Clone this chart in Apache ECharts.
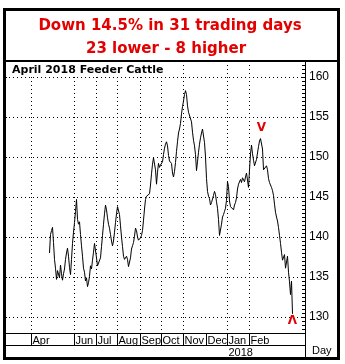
<!DOCTYPE html>
<html>
<head>
<meta charset="utf-8">
<script src="https://cdn.jsdelivr.net/npm/echarts@6/dist/echarts.min.js"></script>
<style>
  html, body { margin: 0; padding: 0; background: #fff; }
  #chart { width: 345px; height: 364px; }
</style>
</head>
<body>
<div id="chart"></div>
<script>
// Trading-day slots per month on the horizontal axis
const months     = ['Mar', 'Apr', 'May', 'Jun', 'Jul', 'Aug', 'Sep', 'Oct', 'Nov', 'Dec', 'Jan', 'Feb', 'Mar'];
const monthYears = [2017, 2017, 2017, 2017, 2017, 2017, 2017, 2017, 2017, 2017, 2018, 2018, 2018];
const monthSlots = [26, 21, 22, 22, 21, 23, 21, 22, 23, 21, 22, 20, 36];

// Months that get a label box, months that get a vertical grid line, months that start a year row
const labeledMonthIdx = [1, 3, 4, 5, 6, 7, 8, 9, 10, 11];
const gridMonthIdx    = [1, 3, 4, 5, 6, 7, 8, 10, 11];
const yearMonthIdx    = [10];

// Price scale
const yTickLabels = [130, 135, 140, 145, 150, 155, 160];
const yMin = 128, yMax = 162;

// Daily settlement prices, April 2018 Feeder Cattle
const firstPriceSlot = 44;
const prices = [
  138.0, 140.3, 140.8, 141.2, 139.3, 137.2, 136.1, 134.7, 135.8, 135.6,
  134.9, 136.5, 135.4, 134.6, 135.4, 136.0, 137.2, 138.0, 138.6, 137.6,
  136.2, 135.3, 137.2, 139.2, 140.6, 141.8, 143.2, 144.7, 142.2, 141.6,
  141.9, 140.3, 138.9, 137.6, 136.1, 135.6, 134.5, 134.9, 133.8, 134.3,
  135.1, 136.4, 136.0, 137.1, 138.1, 139.2, 139.0, 137.4, 136.4, 136.3,
  136.6, 137.4, 138.8, 140.2, 141.6, 142.9, 144.0, 143.4, 142.4, 141.6,
  141.1, 140.3, 139.5, 138.9, 139.5, 140.6, 141.8, 142.9, 143.8, 144.0,
  142.8, 141.4, 140.0, 138.8, 137.6, 137.2, 137.3, 137.6, 137.2, 136.3,
  136.3, 137.4, 138.5, 138.9, 139.3, 140.1, 141.1, 140.8, 140.0, 139.6,
  139.6, 139.9, 140.2, 140.8, 142.1, 143.5, 144.7, 145.1, 145.2, 145.0,
  145.4, 146.5, 147.9, 149.1, 149.9, 149.7, 148.4, 146.6, 148.1, 149.2,
  148.7, 149.0, 148.9, 149.4, 150.3, 151.1, 151.6, 151.9, 151.4, 150.2,
  149.5, 149.5, 149.2, 148.0, 147.5, 148.2, 149.3, 150.7, 151.9, 153.0,
  153.5, 154.2, 155.4, 156.3, 157.0, 157.8, 158.3, 157.8, 156.4, 155.6,
  155.8, 155.4, 154.4, 153.1, 152.1, 151.4, 150.3, 148.3, 149.4, 150.6,
  151.6, 152.4, 153.0, 153.5, 153.5, 151.8, 150.0, 147.3, 145.7, 145.1,
  144.8, 144.0, 144.3, 144.4, 145.2, 145.7, 145.3, 144.4, 143.6, 142.2,
  140.2, 140.1, 141.6, 142.5, 142.8, 143.2, 143.6, 144.6, 146.9, 146.3,
  144.5, 143.8, 143.9, 143.7, 143.4, 144.0, 144.3, 144.9, 146.0, 146.6,
  146.4, 147.2, 146.8, 147.4, 147.3, 146.9, 147.5, 148.0, 147.9, 146.2,
  148.4, 150.4, 151.5, 150.4, 149.6, 148.9, 149.0, 149.7, 150.5, 151.3,
  152.0, 152.3, 152.4, 151.0, 148.4, 148.3, 148.5, 148.9, 148.4, 147.3,
  146.8, 146.7, 146.2, 145.8, 145.2, 144.1, 143.1, 142.5, 142.0, 141.2,
  140.2, 139.2, 138.1, 137.1, 136.9, 137.8, 136.1, 136.0, 137.6, 135.6,
  134.4, 132.8, 134.5, 130.4
];

// ---- derived axis data ----
const days = [];
const monthStartSlot = [];
months.forEach((m, mi) => {
  monthStartSlot.push(days.length);
  for (let k = 0; k < monthSlots[mi]; k++) days.push(m + ' ' + monthYears[mi] + ' ' + (k + 1));
});
const labelSlots = new Set(labeledMonthIdx.map(i => monthStartSlot[i]));
const gridSlots  = new Set(gridMonthIdx.map(i => monthStartSlot[i]));
const yearSlots  = new Set(yearMonthIdx.map(i => monthStartSlot[i]));

const series = days.map((d, i) => {
  const p = i - firstPriceSlot;
  return (p >= 0 && p < prices.length) ? prices[p] : null;
});

// Rally top before the final slide, and the closing low
let lowIdx = 0;
prices.forEach((v, i) => { if (v < prices[lowIdx]) lowIdx = i; });
let peakIdx = lowIdx;
for (let i = lowIdx; i >= lowIdx - 40; i--) if (prices[i] > prices[peakIdx]) peakIdx = i;

const RED = '#e30000';
const SANS = '"Liberation Sans", Arial, sans-serif';
const BOLD = '"DejaVu Sans", sans-serif';

// layout
const W = 345, H = 364;
const plotLeft = 5, plotRight = 305, plotTop = 61, plotBottom = 333;
const pxPerUnit = (plotBottom - plotTop) / (yMax - yMin);
const labelTop = plotBottom - (yTickLabels[yTickLabels.length - 1] - yMin) * pxPerUnit;
const labelBottom = plotBottom - (yTickLabels[0] - yMin) * pxPerUnit;

const chart = echarts.init(document.getElementById('chart'), null, { renderer: 'canvas' });

chart.setOption({
  animation: false,
  backgroundColor: '#fff',
  grid: [
    { left: plotLeft, right: W - plotRight, top: plotTop, bottom: H - plotBottom },
    { left: plotLeft, right: W - plotRight, top: labelTop, bottom: H - labelBottom }
  ],
  xAxis: [
    {
      type: 'category', gridIndex: 0, data: days, boundaryGap: true,
      axisLine: { show: true, lineStyle: { color: '#000', width: 1 } },
      axisTick: { show: true, length: 12, interval: (i) => labelSlots.has(i), lineStyle: { color: '#000', width: 1 } },
      axisLabel: {
        show: true, interval: (i) => labelSlots.has(i), align: 'left', margin: 2,
        padding: [0, 0, 0, 1],
        formatter: (v) => v.split(' ')[0],
        color: '#000', fontFamily: SANS, fontSize: 11
      },
      splitLine: { show: true, interval: (i) => gridSlots.has(i), lineStyle: { color: '#000', width: 1, type: [1, 3] } }
    },
    {
      type: 'category', gridIndex: 0, data: days, boundaryGap: true, position: 'bottom', offset: 12,
      axisLine: { show: true, lineStyle: { color: '#000', width: 1 } },
      axisTick: { show: true, length: 12, interval: (i) => yearSlots.has(i), lineStyle: { color: '#000', width: 1 } },
      axisLabel: {
        show: true, interval: (i) => yearSlots.has(i), align: 'left', margin: 2,
        padding: [0, 0, 0, 1],
        formatter: (v) => v.split(' ')[1],
        color: '#000', fontFamily: SANS, fontSize: 11
      },
      splitLine: { show: false }
    },
    { type: 'value', gridIndex: 1, min: 0, max: 1, show: false }
  ],
  yAxis: [
    {
      type: 'value', gridIndex: 0, position: 'right', min: yMin, max: yMax, interval: 0.5,
      axisLine: { show: true, lineStyle: { color: '#000', width: 1 } },
      axisTick: { show: true, inside: true, length: 3, lineStyle: { color: '#000', width: 1 } },
      axisLabel: { show: false },
      splitLine: { show: false }
    },
    {
      type: 'value', gridIndex: 1, position: 'right',
      min: yTickLabels[0], max: yTickLabels[yTickLabels.length - 1], interval: yTickLabels[1] - yTickLabels[0],
      axisLine: { show: false },
      axisTick: { show: true, length: 2, lineStyle: { color: '#000', width: 1 } },
      axisLabel: { show: true, margin: 4, color: '#000', fontFamily: SANS, fontSize: 12 },
      splitLine: { show: true, lineStyle: { color: '#000', width: 1, type: [1, 3] } }
    }
  ],
  series: [{
    type: 'line', xAxisIndex: 0, yAxisIndex: 0, data: series,
    showSymbol: false, symbol: 'none', connectNulls: false,
    lineStyle: { color: '#000', width: 1 },
    z: 5,
    markPoint: {
      symbol: 'rect', symbolSize: 1,
      itemStyle: { color: 'rgba(0,0,0,0)' },
      label: { show: true, position: 'inside', color: RED, fontFamily: BOLD, fontWeight: 'bold', fontSize: 12 },
      data: [
        { coord: [firstPriceSlot + peakIdx, prices[peakIdx]], label: { formatter: 'V', offset: [0, -10] } },
        { coord: [firstPriceSlot + lowIdx, prices[lowIdx]], label: { formatter: 'Λ', offset: [0, 7] } }
      ]
    }
  }],
  graphic: [
    // outer frame and header box
    { type: 'rect', z: 20, shape: { x: 4.5, y: 9.5, width: 334, height: 349 }, style: { fill: null, stroke: '#000', lineWidth: 3 } },
    { type: 'line', z: 20, shape: { x1: 4.5, y1: 61, x2: 338.5, y2: 61 }, style: { stroke: '#000', lineWidth: 2 } },
    // price scale edge continues through the label rows
    { type: 'line', z: 20, shape: { x1: plotRight + 0.5, y1: plotBottom, x2: plotRight + 0.5, y2: 358 }, style: { stroke: '#000', lineWidth: 1 } },
    { type: 'text', z: 20, x: 170, y: 26, style: { text: 'Down 14.5% in 31 trading days', fill: RED, font: 'bold 15px "DejaVu Sans", sans-serif', align: 'center', verticalAlign: 'middle' } },
    { type: 'text', z: 20, x: 166, y: 49.5, style: { text: '23 lower - 8 higher', fill: RED, font: 'bold 15px "DejaVu Sans", sans-serif', align: 'center', verticalAlign: 'middle' } },
    { type: 'text', z: 20, x: 6, y: 62, style: { text: 'April 2018 Feeder Cattle', fill: '#000', font: 'bold 11px "DejaVu Sans", sans-serif', align: 'left', verticalAlign: 'top', backgroundColor: '#fff', padding: [3, 2, 1, 6] } },
    { type: 'text', z: 20, x: 312, y: 351, style: { text: 'Day', fill: '#000', font: '11px "Liberation Sans", Arial, sans-serif', align: 'left', verticalAlign: 'middle' } }
  ]
});
</script>
</body>
</html>
